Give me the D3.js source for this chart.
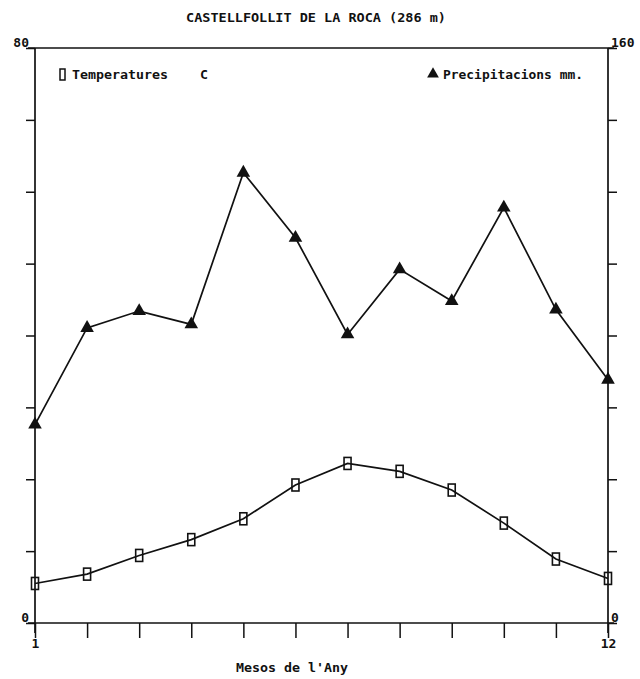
<!DOCTYPE html>
<html><head><meta charset="utf-8">
<script src="https://cdn.jsdelivr.net/npm/d3@7"></script>
<style>
html,body{margin:0;padding:0;background:#fff;}
text{font-family:"DejaVu Sans Mono",monospace;font-weight:bold;fill:#111;white-space:pre;}
</style></head>
<body><svg id="c" width="640" height="679"></svg>
<script>
const months = [1,2,3,4,5,6,7,8,9,10,11,12];
const temperatures = [5.5,6.8,9.4,11.6,14.5,19.2,22.2,21.1,18.5,13.9,8.9,6.2];
const precipitations = [55.2,82.1,86.8,83.1,125.3,107.2,80.3,98.4,89.6,115.6,87.2,67.7];
const tempTicks = [0,10,20,30,40,50,60,70,80];
const precTicks = [0,20,40,60,80,100,120,140,160];
const title = "CASTELLFOLLIT DE LA ROCA (286 m)";
const xTitle = "Mesos de l'Any";
const legendTemp = "Temperatures    C";
const legendPrec = "Precipitacions mm.";

const svg = d3.select("#c");
const L = 35, R = 608, T = 48, B = 623;
const x = d3.scaleLinear().domain([1,12]).range([L,R]);
const yT = d3.scaleLinear().domain([0,80]).range([B,T]);
const yP = d3.scaleLinear().domain([0,160]).range([B,T]);
const ink = "#111";

// title
svg.append("text").attr("x",316).attr("y",22).attr("text-anchor","middle")
  .attr("font-size",13).attr("textLength",260).attr("lengthAdjust","spacingAndGlyphs").text(title);

// top frame line
svg.append("line").attr("x1",28).attr("x2",614).attr("y1",T).attr("y2",T).attr("stroke",ink).attr("stroke-width",1.7);

// axes
const gl = svg.append("g").attr("transform",`translate(${L},0)`)
  .call(d3.axisLeft(yT).tickValues(tempTicks).tickSize(9).tickFormat(d=> (d===0||d===80)? d : ""));
const gr = svg.append("g").attr("transform",`translate(${R},0)`)
  .call(d3.axisRight(yP).tickValues(precTicks).tickSize(9).tickFormat(d=> (d===0||d===160)? d : ""));
const gb = svg.append("g").attr("transform",`translate(0,${B})`)
  .call(d3.axisBottom(x).tickValues(months).tickSize(15).tickFormat(d=> (d===1||d===12)? d : ""));

[gl,gr,gb].forEach(g=>{
  g.selectAll("path.domain").attr("stroke",ink).attr("stroke-width",1.7);
  g.selectAll(".tick line").attr("stroke",ink).attr("stroke-width",1.5);
  g.selectAll(".tick text").attr("font-family","DejaVu Sans Mono").attr("font-weight","bold").attr("font-size",13).attr("fill",ink);
});
gl.selectAll(".tick text").attr("x",-6).attr("dy","-0.1em");
gr.selectAll(".tick text").attr("x",3).attr("dy","-0.1em");
gb.selectAll(".tick text").attr("y",16);
gl.select("path.domain").attr("d",`M0,${T}V${B+10}`);
gr.select("path.domain").attr("d",`M0,${T}V${B+10}`);
gb.select("path.domain").attr("d",`M28,0H614`);

// x title
svg.append("text").attr("x",292).attr("y",672).attr("text-anchor","middle")
  .attr("font-size",13).attr("textLength",112).attr("lengthAdjust","spacingAndGlyphs").text(xTitle);

// legend
svg.append("rect").attr("x",60).attr("y",69).attr("width",5).attr("height",11)
  .attr("fill","none").attr("stroke",ink).attr("stroke-width",1.5);
svg.append("text").attr("x",72).attr("y",79).attr("font-size",13).attr("textLength",136).attr("lengthAdjust","spacingAndGlyphs").text(legendTemp);
svg.append("path").attr("d",d3.symbol(d3.symbolTriangle,60)()).attr("transform","translate(433,74)").attr("fill",ink);
svg.append("text").attr("x",443).attr("y",79).attr("font-size",13).attr("textLength",140).attr("lengthAdjust","spacingAndGlyphs").text(legendPrec);

// lines
const lineT = d3.line().x((d,i)=>x(months[i])).y(d=>yT(d));
const lineP = d3.line().x((d,i)=>x(months[i])).y(d=>yP(d));
svg.append("path").datum(temperatures).attr("d",lineT).attr("fill","none").attr("stroke",ink).attr("stroke-width",1.7);
svg.append("path").datum(precipitations).attr("d",lineP).attr("fill","none").attr("stroke",ink).attr("stroke-width",1.7);

// markers
svg.selectAll("rect.tm").data(temperatures).join("rect").attr("class","tm")
  .attr("x",(d,i)=>x(months[i])-3.5).attr("y",d=>yT(d)-6).attr("width",7).attr("height",12)
  .attr("fill","none").attr("stroke",ink).attr("stroke-width",1.6);
svg.selectAll("path.pm").data(precipitations).join("path").attr("class","pm")
  .attr("d",d3.symbol(d3.symbolTriangle,80)())
  .attr("transform",(d,i)=>`translate(${x(months[i])},${yP(d)})`).attr("fill",ink);
</script></body></html>
